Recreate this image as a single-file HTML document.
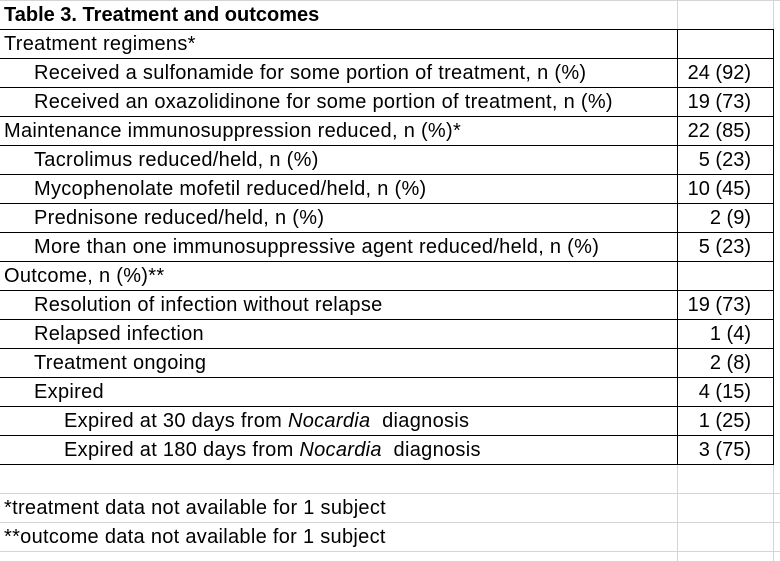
<!DOCTYPE html>
<html><head><style>
body{margin:0;width:780px;height:561px;background:#fff;position:relative;overflow:hidden;font-family:"Liberation Sans",sans-serif;font-size:20px;letter-spacing:0.3px;color:#000}
.r{position:absolute;left:0;width:773px;height:29px}
.t{position:absolute;top:1px;line-height:29px;white-space:nowrap}
.v{position:absolute;right:22px;top:1px;line-height:29px;letter-spacing:0}
.hl{position:absolute;height:1px}
.vl{position:absolute;width:1px}
</style></head><body>
<div class="hl" style="left:0;top:0;width:780px;background:#d4d4d4"></div>
<div class="vl" style="left:677px;top:0;height:29px;background:#d4d4d4"></div>
<div class="vl" style="left:773px;top:0;height:561px;background:#d4d4d4"></div>
<div class="vl" style="left:677px;top:29px;height:435px;background:#000"></div>
<div class="vl" style="left:773px;top:29px;height:435px;background:#000"></div>
<div class="vl" style="left:677px;top:464px;height:97px;background:#d4d4d4"></div>
<div class="hl" style="left:0;top:493px;width:780px;background:#d4d4d4"></div>
<div class="hl" style="left:0;top:522px;width:780px;background:#d4d4d4"></div>
<div class="hl" style="left:0;top:551px;width:780px;background:#d4d4d4"></div>
<div class="r" style="top:0"><span class="t" style="left:4px;font-weight:bold;letter-spacing:0">Table 3. Treatment and outcomes</span></div>
<div class="r" style="top:29px"><span class="t" style="left:4px">Treatment regimens*</span></div>
<div class="r" style="top:58px"><span class="t" style="left:34px">Received a sulfonamide for some portion of treatment, n (%)</span><span class="v">24 (92)</span></div>
<div class="r" style="top:87px"><span class="t" style="left:34px">Received an oxazolidinone for some portion of treatment, n (%)</span><span class="v">19 (73)</span></div>
<div class="r" style="top:116px"><span class="t" style="left:4px">Maintenance immunosuppression reduced, n (%)*</span><span class="v">22 (85)</span></div>
<div class="r" style="top:145px"><span class="t" style="left:34px">Tacrolimus reduced/held, n (%)</span><span class="v">5 (23)</span></div>
<div class="r" style="top:174px"><span class="t" style="left:34px">Mycophenolate mofetil reduced/held, n (%)</span><span class="v">10 (45)</span></div>
<div class="r" style="top:203px"><span class="t" style="left:34px">Prednisone reduced/held, n (%)</span><span class="v">2 (9)</span></div>
<div class="r" style="top:232px"><span class="t" style="left:34px">More than one immunosuppressive agent reduced/held, n (%)</span><span class="v">5 (23)</span></div>
<div class="r" style="top:261px"><span class="t" style="left:4px">Outcome, n (%)**</span></div>
<div class="r" style="top:290px"><span class="t" style="left:34px">Resolution of infection without relapse</span><span class="v">19 (73)</span></div>
<div class="r" style="top:319px"><span class="t" style="left:34px">Relapsed infection</span><span class="v">1 (4)</span></div>
<div class="r" style="top:348px"><span class="t" style="left:34px">Treatment ongoing</span><span class="v">2 (8)</span></div>
<div class="r" style="top:377px"><span class="t" style="left:34px">Expired</span><span class="v">4 (15)</span></div>
<div class="r" style="top:406px"><span class="t" style="left:64px">Expired at 30 days from <i>Nocardia</i>&nbsp; diagnosis</span><span class="v">1 (25)</span></div>
<div class="r" style="top:435px"><span class="t" style="left:64px">Expired at 180 days from <i>Nocardia</i>&nbsp; diagnosis</span><span class="v">3 (75)</span></div>
<div class="r" style="top:493px"><span class="t" style="left:4px">*treatment data not available for 1 subject</span></div>
<div class="r" style="top:522px"><span class="t" style="left:4px">**outcome data not available for 1 subject</span></div>
<script>
for(let i=1;i<=16;i++){const d=document.createElement('div');d.className='hl';d.style.cssText='left:0;width:774px;background:#000;top:'+(i*29)+'px';document.body.appendChild(d);}
</script>
</body></html>
